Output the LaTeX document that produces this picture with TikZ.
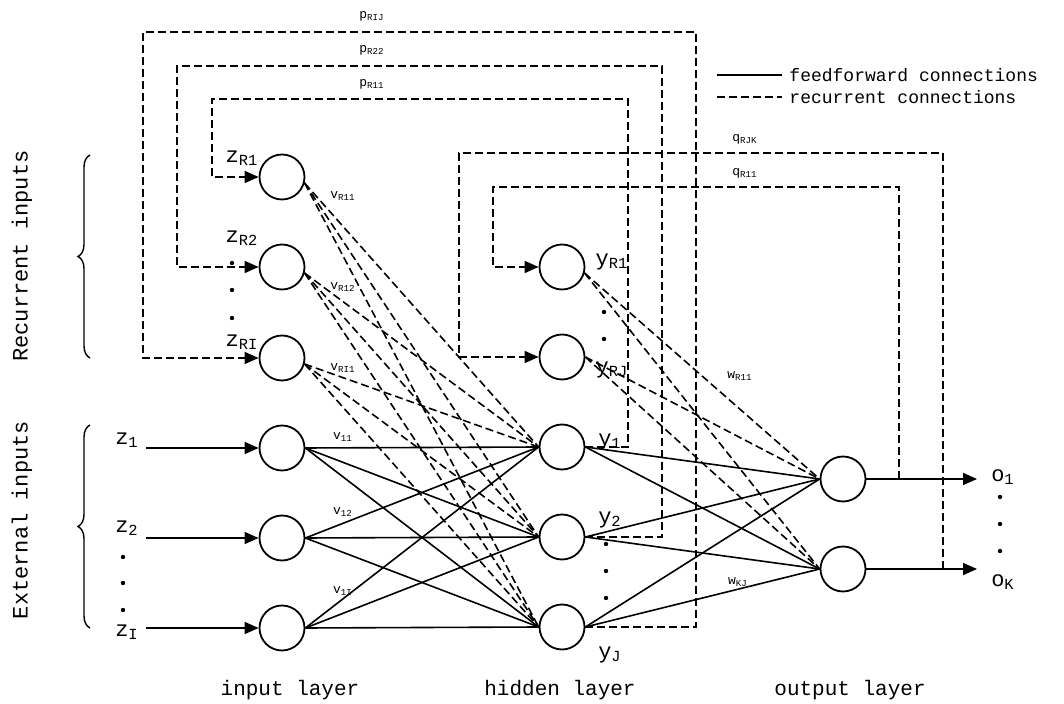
\documentclass[tikz,border=0pt]{standalone}
\usepackage{fontspec}
\setmainfont{Liberation Mono}
\usetikzlibrary{arrows.meta, decorations.pathreplacing}

\begin{document}
\begin{tikzpicture}[x=0.5pt, y=-0.5pt, line width=0.8pt,
    neuron/.style={circle, draw, line width=0.9pt, minimum size=22.5pt, inner sep=0pt},
    feed/.style={line width=0.8pt},
    recur/.style={line width=0.8pt, dash pattern=on 4pt off 2pt},
    tip/.style={-{Triangle[length=7pt, width=6pt]}},
    lab/.style={font=\fontsize{11}{12}\selectfont, inner sep=0pt},
    wlab/.style={font=\fontsize{6.5}{7}\selectfont, inner sep=0pt},
    txt/.style={font=\fontsize{9}{10}\selectfont},
    layer/.style={font=\fontsize{10.5}{12}\selectfont}]

  \useasboundingbox (0,0) rectangle (1064,704);

  % input layer: recurrent and external units
  \node[neuron] (zR1) at (282,177) {};
  \node[neuron] (zR2) at (282,267) {};
  \node[neuron] (zRI) at (282,358) {};
  \node[neuron] (z1)  at (282,448) {};
  \node[neuron] (z2)  at (282,538) {};
  \node[neuron] (zI)  at (282,628) {};

  % hidden layer
  \node[neuron] (yR1) at (562,267) {};
  \node[neuron] (yRJ) at (562,357) {};
  \node[neuron] (y1)  at (562,447) {};
  \node[neuron] (y2)  at (562,537) {};
  \node[neuron] (yJ)  at (562,627) {};

  % output layer
  \node[neuron] (o1) at (843,479) {};
  \node[neuron] (oK) at (843,569) {};

  % free ends of the input and output arrows
  \coordinate (in1) at (146,448);
  \coordinate (in2) at (146,538);
  \coordinate (inI) at (146,628);
  \coordinate (out1) at (977,479);
  \coordinate (outK) at (977,569);
  \coordinate (tap1) at (899,479);
  \coordinate (tapK) at (943,569);

  \draw[feed, tip] (in1) -- (z1);
  \draw[feed, tip] (in2) -- (z2);
  \draw[feed, tip] (inI) -- (zI);
  \draw[feed, tip] (o1) -- (out1);
  \draw[feed, tip] (oK) -- (outK);

  % feedforward weights
  \foreach \s in {z1,z2,zI}
    \foreach \t in {y1,y2,yJ}
      \draw[feed] (\s.east) -- (\t.west);
  \foreach \s in {zR1,zR2,zRI}
    \foreach \t in {y1,y2,yJ}
      \draw[recur] (\s.-15) -- (\t.west);
  \foreach \s in {y1,y2,yJ}
    \foreach \t in {o1,oK}
      \draw[feed] (\s.east) -- (\t.west);
  \foreach \t in {o1,oK} {
    \draw[recur] (yR1.-15) -- (\t.west);
    \draw[recur] (yRJ.east) -- (\t.west);
  }

  % feedback loops hidden -> input
  \draw[recur, tip] (y1.east) -| (628,99) -| (212,177) -- (zR1);
  \draw[recur, tip] (y2.east) -| (662,66) -| (177,267) -- (zR2);
  \draw[recur, tip] (yJ.east) -| (696,32) -| (143,358) -- (zRI);

  % feedback loops output -> hidden
  \draw[recur, tip] (tap1) |- (493,187) |- (yR1);
  \draw[recur, tip] (tapK) |- (459,153) |- (yRJ);

  % unit labels
  \node[lab] at (242,158) {z\textsubscript{R1}};
  \node[lab] at (242,238) {z\textsubscript{R2}};
  \node[lab] at (242,342) {z\textsubscript{RI}};
  \node[lab] at (127,440) {z\textsubscript{1}};
  \node[lab] at (127,528) {z\textsubscript{2}};
  \node[lab] at (127,632) {z\textsubscript{I}};
  \node[lab] at (612,262) {y\textsubscript{R1}};
  \node[lab] at (612,370) {y\textsubscript{RJ}};
  \node[lab] at (610,442) {y\textsubscript{1}};
  \node[lab] at (610,520) {y\textsubscript{2}};
  \node[lab] at (610,655) {y\textsubscript{J}};
  \node[lab] at (1003,477) {o\textsubscript{1}};
  \node[lab] at (1003,582) {o\textsubscript{K}};

  % weight labels
  \node[wlab] at (343,196) {v\textsubscript{R11}};
  \node[wlab] at (343,287) {v\textsubscript{R12}};
  \node[wlab] at (343,368) {v\textsubscript{RI1}};
  \node[wlab] at (343,437) {v\textsubscript{11}};
  \node[wlab] at (343,512) {v\textsubscript{12}};
  \node[wlab] at (343,591) {v\textsubscript{1I}};
  \node[wlab] at (372,16) {p\textsubscript{RIJ}};
  \node[wlab] at (372,50) {p\textsubscript{R22}};
  \node[wlab] at (372,84) {p\textsubscript{R11}};
  \node[wlab] at (745,139) {q\textsubscript{RJK}};
  \node[wlab] at (745,173) {q\textsubscript{R11}};
  \node[wlab] at (740,376) {w\textsubscript{R11}};
  \node[wlab] at (738,582) {w\textsubscript{KJ}};

  % ellipsis dots
  \foreach \p in {(232,263),(232,290),(232,318),
                  (123,557),(123,583),(123,610),
                  (604,312),(604,339),
                  (606,544),(606,571),(606,598),
                  (1000,497),(1000,524),(1000,551)}
    \fill \p circle[radius=1.1pt];

  % groups of inputs
  \draw[decorate, decoration={brace, amplitude=6pt}, line width=0.7pt]
    (90,358) -- (90,155);
  \draw[decorate, decoration={brace, amplitude=6pt}, line width=0.7pt]
    (90,628) -- (90,425);
  \node[lab, rotate=90] at (22,256) {Recurrent inputs};
  \node[lab, rotate=90] at (22,520) {External inputs};

  % layer names
  \node[layer] at (290,690) {input layer};
  \node[layer] at (560,690) {hidden layer};
  \node[layer] at (850,690) {output layer};

  % legend
  \draw[feed] (717,75) -- (782,75) node[right, txt] {feedforward connections};
  \draw[recur] (717,97) -- (782,97) node[right, txt] {recurrent connections};

\end{tikzpicture}
\end{document}
